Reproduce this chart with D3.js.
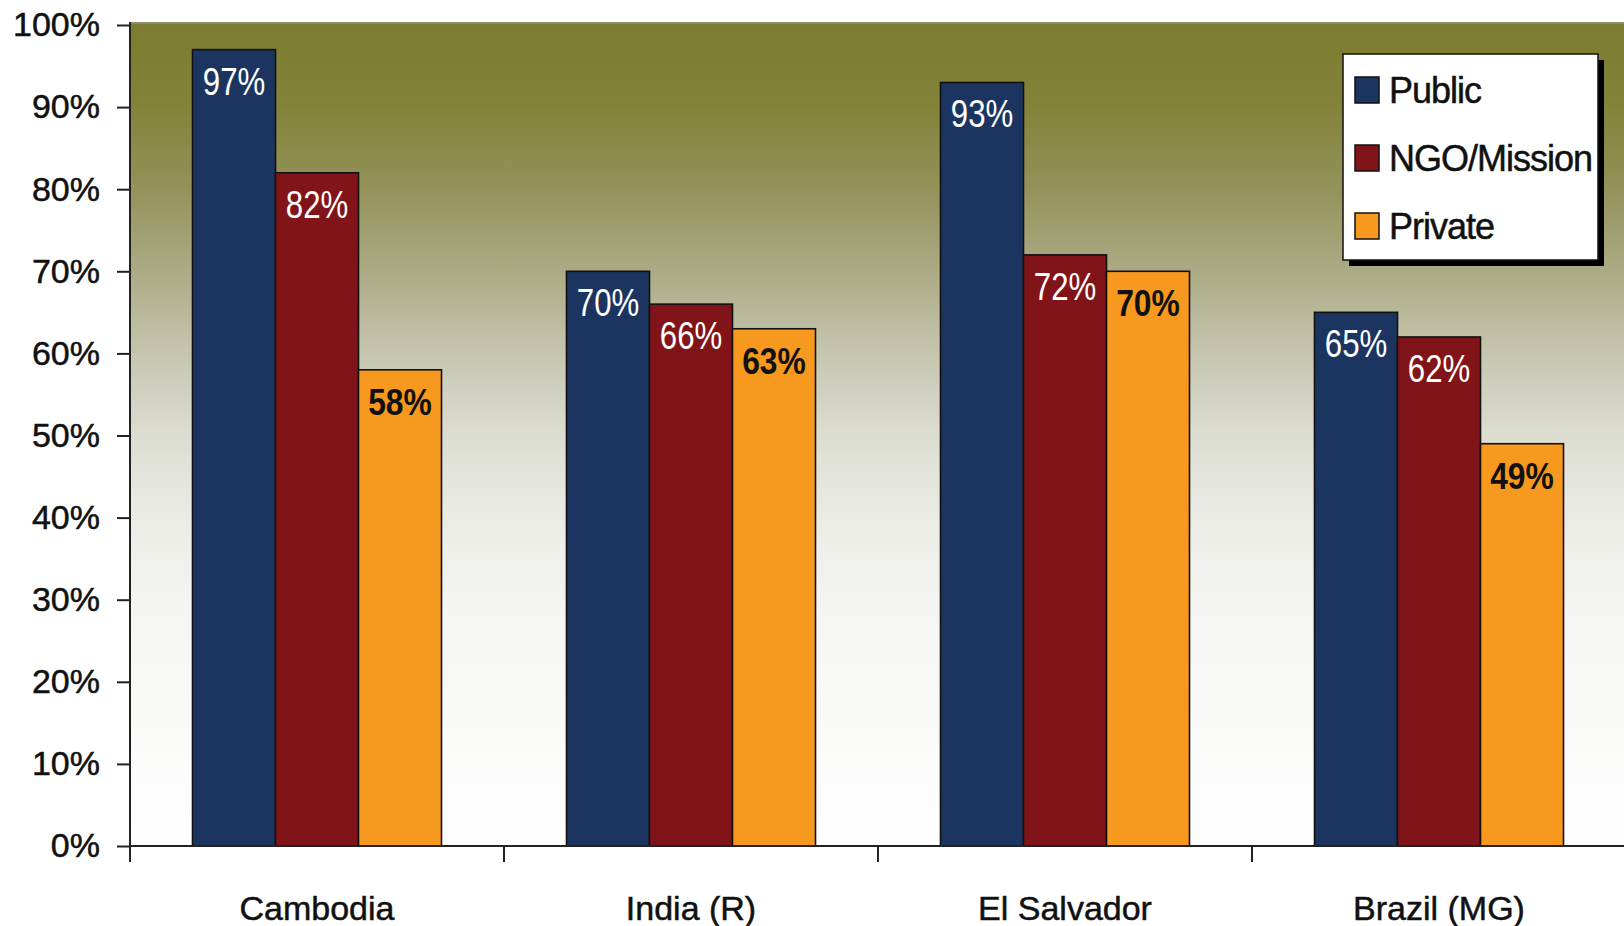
<!DOCTYPE html>
<html>
<head>
<meta charset="utf-8">
<script src="https://cdn.jsdelivr.net/npm/d3@7"></script>
<style>
  html, body { margin: 0; padding: 0; background: #ffffff; }
  svg { display: block; }
  text { font-family: "Liberation Sans", Arial, sans-serif; }
</style>
</head>
<body>
<svg id="chart" width="1624" height="926"></svg>
<script>
// Share of facilities by sector and country
const categories = ["Cambodia", "India (R)", "El Salvador", "Brazil (MG)"];
const seriesNames = ["Public", "NGO/Mission", "Private"];
const publicValues = [97, 70, 93, 65];
const ngoValues = [82, 66, 72, 62];
const privateValues = [58, 63, 70, 49];
const yTicks = [0, 10, 20, 30, 40, 50, 60, 70, 80, 90, 100];
const seriesColors = ["#1b3560", "#811418", "#f7991f"];

const seriesValues = [publicValues, ngoValues, privateValues];
const rows = categories.map((c, i) => ({
  category: c,
  values: seriesNames.map((s, j) => ({ series: s, value: seriesValues[j][i], idx: j }))
}));

const svg = d3.select("#chart");
const plotLeft = 130, plotRight = 1626, plotTop = 25, plotBottom = 846;

const x = d3.scaleBand().domain(categories).range([plotLeft, plotRight]).padding(0);
const xInner = d3.scaleBand().domain(seriesNames).range([0, x.bandwidth()])
  .paddingInner(0).paddingOuter(0.753);
const y = d3.scaleLinear().domain([0, 100]).range([plotBottom, plotTop]);

// Plot-area gradient: olive at the top fading to white at the baseline
const defs = svg.append("defs");
const grad = defs.append("linearGradient").attr("id", "bg")
  .attr("x1", 0).attr("y1", 0).attr("x2", 0).attr("y2", 1);
[[0, "#7b7c2f"], [0.1, "#828339"], [0.2, "#939259"], [0.3, "#abaa84"],
 [0.4, "#c5c5ae"], [0.5, "#dcddd1"], [0.6, "#ebebe6"], [0.72, "#f5f5f3"],
 [1, "#ffffff"]].forEach(([o, c]) => grad.append("stop").attr("offset", o).attr("stop-color", c));

svg.append("rect")
  .attr("x", plotLeft).attr("y", plotTop - 3)
  .attr("width", plotRight - plotLeft).attr("height", plotBottom - plotTop + 3)
  .attr("fill", "url(#bg)");
svg.append("line")
  .attr("x1", plotLeft).attr("x2", plotRight)
  .attr("y1", plotTop - 2).attr("y2", plotTop - 2)
  .attr("stroke", "#8c8c78").attr("stroke-width", 2);

// Bars
const groups = svg.append("g").selectAll("g").data(rows).join("g")
  .attr("transform", d => `translate(${x(d.category)},0)`);

groups.selectAll("rect").data(d => d.values).join("rect")
  .attr("x", d => xInner(d.series))
  .attr("y", d => y(d.value))
  .attr("width", xInner.bandwidth())
  .attr("height", d => y(0) - y(d.value))
  .attr("fill", d => seriesColors[d.idx])
  .attr("stroke", "#111")
  .attr("stroke-width", 1.6);

// Value labels inside the top of each bar
groups.selectAll("g.lbl").data(d => d.values).join("g")
  .attr("class", "lbl")
  .attr("transform", d => `translate(${xInner(d.series) + xInner.bandwidth() / 2},${y(d.value) + 45}) scale(${d.idx === 2 ? 0.86 : 0.8},1)`)
  .append("text")
  .attr("text-anchor", "middle")
  .attr("font-size", d => d.idx === 2 ? 37 : 39)
  .attr("font-weight", d => d.idx === 2 ? "bold" : "normal")
  .attr("fill", d => d.idx === 2 ? "#111" : "#ffffff")
  .text(d => d.value + "%");

// Y axis
const yAxis = d3.axisLeft(y).tickValues(yTicks).tickFormat(d => d + "%")
  .tickSize(13).tickPadding(17);
const yg = svg.append("g").attr("transform", `translate(${plotLeft},0)`).call(yAxis);
yg.select(".domain").remove();
yg.selectAll(".tick line").attr("stroke", "#222").attr("stroke-width", 2);
yg.selectAll(".tick text").attr("font-size", 34).attr("fill", "#111")
  .attr("stroke", "#111").attr("stroke-width", 0.5)
  .attr("font-family", "Liberation Sans, Arial, sans-serif");
svg.append("line")
  .attr("x1", plotLeft).attr("x2", plotLeft)
  .attr("y1", plotTop - 3).attr("y2", plotBottom + 16)
  .attr("stroke", "#222").attr("stroke-width", 2);

// X axis baseline, boundary ticks and category labels
svg.append("line")
  .attr("x1", plotLeft).attr("x2", plotRight)
  .attr("y1", plotBottom).attr("y2", plotBottom)
  .attr("stroke", "#222").attr("stroke-width", 2);
svg.append("g").selectAll("line").data(categories.slice(1)).join("line")
  .attr("x1", d => x(d)).attr("x2", d => x(d))
  .attr("y1", plotBottom).attr("y2", plotBottom + 16)
  .attr("stroke", "#222").attr("stroke-width", 2);
svg.append("g").selectAll("text").data(categories).join("text")
  .attr("x", d => x(d) + x.bandwidth() / 2)
  .attr("y", 920)
  .attr("text-anchor", "middle")
  .attr("font-size", 34)
  .attr("fill", "#111")
  .attr("stroke", "#111").attr("stroke-width", 0.5)
  .text(d => d);

// Legend
const lg = svg.append("g").attr("transform", "translate(1343,54)");
lg.append("rect").attr("x", 6).attr("y", 6).attr("width", 255).attr("height", 206).attr("fill", "#000");
lg.append("rect").attr("x", 0).attr("y", 0).attr("width", 255).attr("height", 206)
  .attr("fill", "#ffffff").attr("stroke", "#111").attr("stroke-width", 1.5);
const items = lg.selectAll("g.item").data(seriesNames).join("g")
  .attr("class", "item")
  .attr("transform", (d, i) => `translate(12,${23 + i * 68})`);
items.append("rect").attr("width", 24).attr("height", 26)
  .attr("fill", (d, i) => seriesColors[i]).attr("stroke", "#111").attr("stroke-width", 1.5);
items.append("text").attr("x", 34).attr("y", 26)
  .attr("font-size", 36).attr("letter-spacing", -1).attr("fill", "#111")
  .attr("stroke", "#111").attr("stroke-width", 0.5)
  .text(d => d);
</script>
</body>
</html>
